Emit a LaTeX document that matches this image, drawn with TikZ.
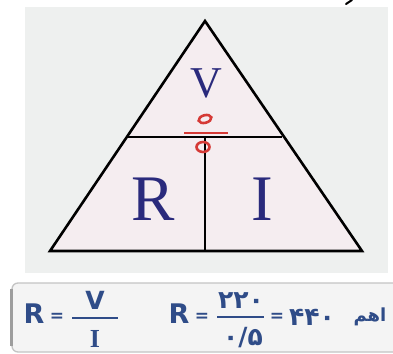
\documentclass[tikz,border=0pt]{standalone}
\usepackage{fontspec}
\setmainfont{Liberation Serif}
\newfontfamily\fafont[Script=Arabic]{DejaVu Sans}
\newfontfamily\sansfont{DejaVu Sans}
\TeXXeTstate=1
\definecolor{panelgray}{HTML}{EEF0EF}
\definecolor{trifill}{HTML}{F5EDF0}
\definecolor{letterblue}{HTML}{2A2A7C}
\definecolor{navy}{HTML}{2F4C88}
\definecolor{divred}{HTML}{D53A36}
\definecolor{boxfill}{HTML}{F4F4F4}
\definecolor{boxline}{HTML}{C4C4C4}
\tikzset{
  bigletter/.style={text=letterblue, inner sep=0pt, anchor=base},
  eqtext/.style={text=navy, inner sep=0pt, font=\sansfont\bfseries\fontsize{27}{30}\selectfont},
  eqsign/.style={text=navy, inner sep=0pt, font=\sansfont\bfseries\fontsize{17}{20}\selectfont},
  fractext/.style={text=navy, inner sep=0pt, anchor=base, font=\sansfont\bfseries\fontsize{25}{28}\selectfont},
  serifI/.style={text=navy, inner sep=0pt, anchor=base, font=\rmfamily\bfseries\fontsize{26}{28}\selectfont},
  digtext/.style={text=navy, inner sep=0pt, anchor=base, font=\fafont\bfseries\fontsize{25}{28}\selectfont},
  wordtext/.style={text=navy, inner sep=0pt, anchor=base, font=\fafont\bfseries\fontsize{18}{22}\selectfont},
  triline/.style={line width=2.6pt, black, line join=miter},
  divstroke/.style={divred, line width=2.6pt},
  fracbar/.style={navy, line width=1.6pt}
}
\begin{document}
\begin{tikzpicture}[x=1pt,y=-1pt]
\useasboundingbox (0,0) rectangle (393,353);
\fill[white] (0,0) rectangle (393,353);
% upper panel
\fill[panelgray] (25,7) rectangle (388,273);
% small stroke at top edge
\draw[line width=2pt, black, line cap=round] (346,4) -- (352,0);
% triangle
\coordinate (A) at (205,21);
\coordinate (B) at (50,251);
\coordinate (C) at (362,251);
\coordinate (L) at (127.7,137);
\coordinate (M) at (205,137);
\coordinate (Rr) at (282.3,137);
\coordinate (N) at (205,251);
\fill[trifill] (A) -- (B) -- (C) -- cycle;
\draw[triline] (A) -- (B) -- (C) -- cycle;
\draw[triline] (L) -- (Rr);
\draw[triline] (M) -- (N);
% letters
\node[bigletter, font=\fontsize{44}{48}\selectfont] (V) at (206,97) {V};
\node[bigletter, font=\fontsize{65}{70}\selectfont] (R) at (153,220) {R};
\node[bigletter, font=\fontsize{65}{70}\selectfont] (I) at (262,220) {I};
% red division symbol
\draw[divstroke, rotate around={15:(205,119)}] (205,119) ellipse (6.5pt and 3.8pt);
\draw[divred, line width=2.8pt] (184,133) -- (228,133);
\draw[divstroke] (203,147) ellipse (6.5pt and 5pt);
% lower box
\draw[boxline, line width=1.3pt, fill=boxfill, rounded corners=6pt] (12,283) -- (410,283) -- (410,352) -- (12,352) -- cycle;
\draw[boxline!80!black, line width=2.6pt] (11.5,289) -- (11.5,346);
% first equation
\node[eqtext, anchor=base] (R1) at (34,323) {R};
\node[eqsign] (eq1) at (57,317) {=};
\coordinate (b1l) at (72,318);
\coordinate (b1r) at (118,318);
\draw[fracbar] (b1l) -- (b1r);
\node[fractext] (V1) at (95,309) {V};
\node[serifI] (I1) at (95,347) {I};
% second equation
\node[eqtext, anchor=base] (R2) at (179,323) {R};
\node[eqsign] (eq2) at (202,317) {=};
\coordinate (b2l) at (217,317);
\coordinate (b2r) at (264,317);
\draw[fracbar] (b2l) -- (b2r);
\node[digtext] (num) at (241,308) {\beginR ۲۲۰\endR};
\node[digtext] (den) at (243,345) {\beginR ۰/۵\endR};
\node[eqsign] (eq3) at (277,317) {=};
\node[digtext] (res) at (312,325) {\beginR ۴۴۰\endR};
\node[wordtext] (ohm) at (370,321) {\beginR اهم\endR};
\end{tikzpicture}
\end{document}
